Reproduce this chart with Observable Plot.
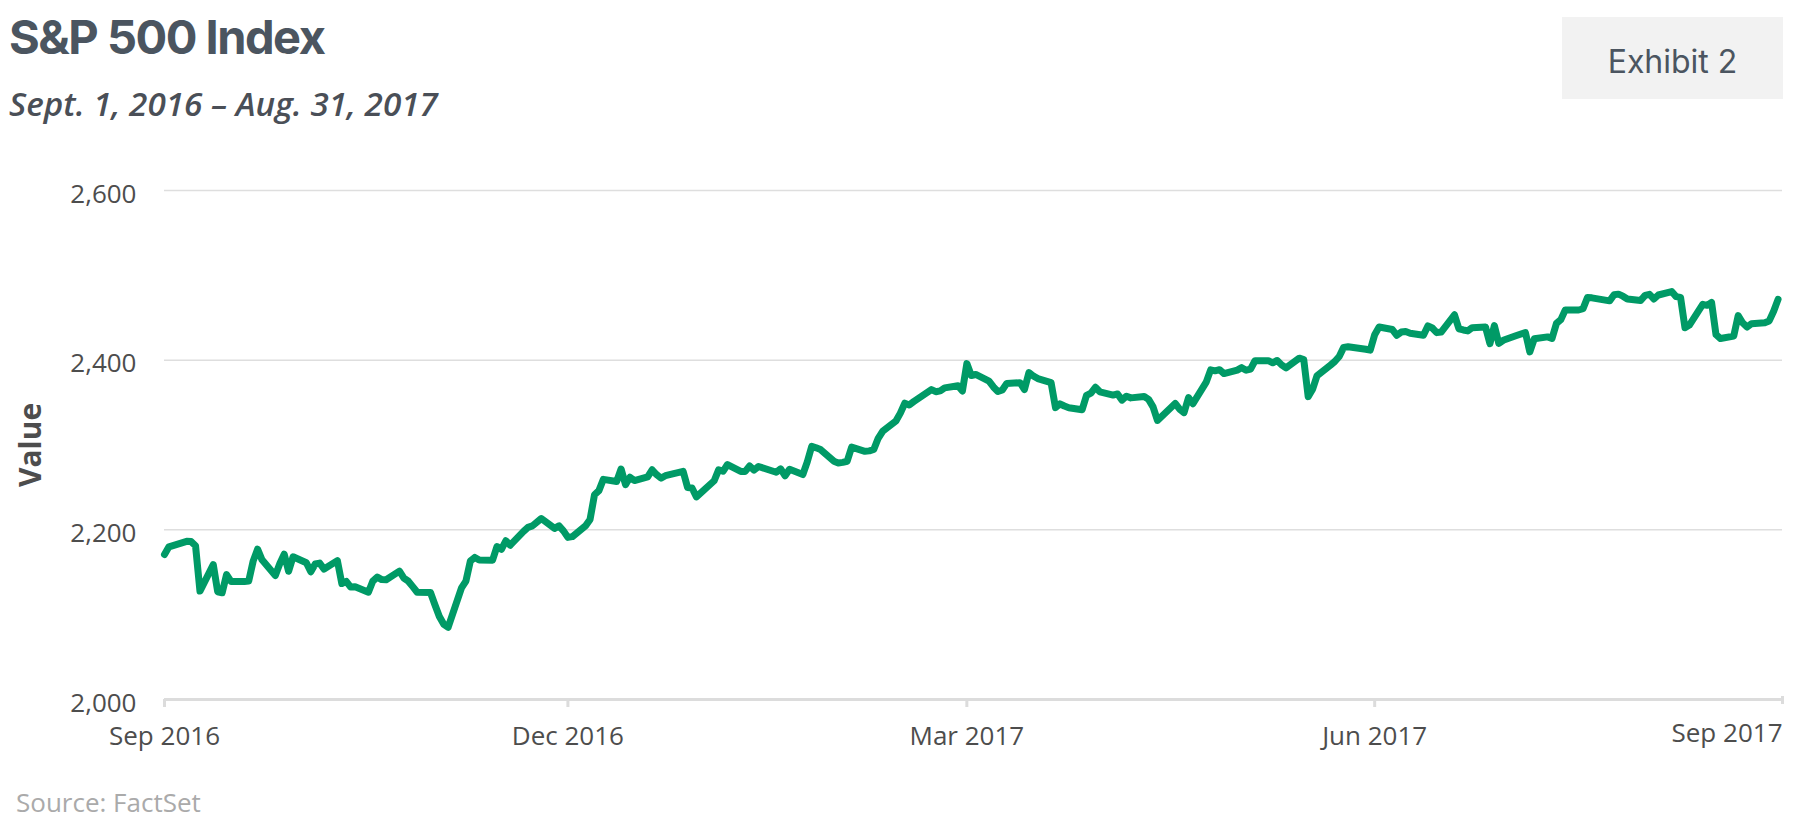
<!DOCTYPE html>
<html><head><meta charset="utf-8">
<script src="https://cdn.jsdelivr.net/npm/d3@7"></script>
<script src="https://cdn.jsdelivr.net/npm/@observablehq/plot@0.6"></script>
<style>
body{margin:0;background:#fff;}
#wrap{position:relative;width:1798px;height:826px;overflow:hidden;background:#fff;}
.t{position:absolute;white-space:nowrap;line-height:1;}
#title{left:9px;top:13px;font-family:Inter;font-weight:700;font-size:47px;letter-spacing:-1.5px;color:#4b5560;}
#subtitle{left:9px;top:87px;font-family:"Open Sans";font-weight:600;font-style:italic;font-size:33.3px;color:#4a4f57;}
#exbox{position:absolute;left:1562px;top:17px;width:221px;height:82px;background:#f2f2f2;}
#extext{left:1562px;width:221px;text-align:center;top:45.7px;font-family:Inter;font-weight:400;font-size:32px;color:#4b5560;}
#source{left:16px;top:789px;font-family:"Open Sans";font-size:26px;color:#aaaaaa;}
#ylabel{left:-70px;top:424.5px;width:200px;height:40px;line-height:40px;text-align:center;transform:rotate(-90deg);font-family:"Open Sans";font-weight:700;font-size:30px;color:#4d4d4d;}
#chart{position:absolute;left:0;top:150px;}
</style>
</head><body>
<div id="wrap">
  <div class="t" id="title">S&amp;P 500 Index</div>
  <div class="t" id="subtitle">Sept. 1, 2016 – Aug. 31, 2017</div>
  <div id="exbox"></div>
  <div class="t" id="extext">Exhibit 2</div>
  <div class="t" id="ylabel">Value</div>
  <div id="chart"></div>
  <div class="t" id="source">Source: FactSet</div>
</div>
<script>
const dates = [
"2016-09-01","2016-09-02","2016-09-06","2016-09-07","2016-09-08","2016-09-09","2016-09-12","2016-09-13","2016-09-14","2016-09-15","2016-09-16","2016-09-19","2016-09-20","2016-09-21","2016-09-22","2016-09-23","2016-09-26","2016-09-27","2016-09-28","2016-09-29","2016-09-30",
"2016-10-03","2016-10-04","2016-10-05","2016-10-06","2016-10-07","2016-10-10","2016-10-11","2016-10-12","2016-10-13","2016-10-14","2016-10-17","2016-10-18","2016-10-19","2016-10-20","2016-10-21","2016-10-24","2016-10-25","2016-10-26","2016-10-27","2016-10-28","2016-10-31",
"2016-11-01","2016-11-02","2016-11-03","2016-11-04","2016-11-07","2016-11-08","2016-11-09","2016-11-10","2016-11-11","2016-11-14","2016-11-15","2016-11-16","2016-11-17","2016-11-18","2016-11-21","2016-11-22","2016-11-23","2016-11-25","2016-11-28","2016-11-29","2016-11-30",
"2016-12-01","2016-12-02","2016-12-05","2016-12-06","2016-12-07","2016-12-08","2016-12-09","2016-12-12","2016-12-13","2016-12-14","2016-12-15","2016-12-16","2016-12-19","2016-12-20","2016-12-21","2016-12-22","2016-12-23","2016-12-27","2016-12-28","2016-12-29","2016-12-30",
"2017-01-03","2017-01-04","2017-01-05","2017-01-06","2017-01-09","2017-01-10","2017-01-11","2017-01-12","2017-01-13","2017-01-17","2017-01-18","2017-01-19","2017-01-20","2017-01-23","2017-01-24","2017-01-25","2017-01-26","2017-01-27","2017-01-30","2017-01-31",
"2017-02-01","2017-02-02","2017-02-03","2017-02-06","2017-02-07","2017-02-08","2017-02-09","2017-02-10","2017-02-13","2017-02-14","2017-02-15","2017-02-16","2017-02-17","2017-02-21","2017-02-22","2017-02-23","2017-02-24","2017-02-27","2017-02-28",
"2017-03-01","2017-03-02","2017-03-03","2017-03-06","2017-03-07","2017-03-08","2017-03-09","2017-03-10","2017-03-13","2017-03-14","2017-03-15","2017-03-16","2017-03-17","2017-03-20","2017-03-21","2017-03-22","2017-03-23","2017-03-24","2017-03-27","2017-03-28","2017-03-29","2017-03-30","2017-03-31",
"2017-04-03","2017-04-04","2017-04-05","2017-04-06","2017-04-07","2017-04-10","2017-04-11","2017-04-12","2017-04-13","2017-04-17","2017-04-18","2017-04-19","2017-04-20","2017-04-21","2017-04-24","2017-04-25","2017-04-26","2017-04-27","2017-04-28",
"2017-05-01","2017-05-02","2017-05-03","2017-05-04","2017-05-05","2017-05-08","2017-05-09","2017-05-10","2017-05-11","2017-05-12","2017-05-15","2017-05-16","2017-05-17","2017-05-18","2017-05-19","2017-05-22","2017-05-23","2017-05-24","2017-05-25","2017-05-26","2017-05-30","2017-05-31",
"2017-06-01","2017-06-02","2017-06-05","2017-06-06","2017-06-07","2017-06-08","2017-06-09","2017-06-12","2017-06-13","2017-06-14","2017-06-15","2017-06-16","2017-06-19","2017-06-20","2017-06-21","2017-06-22","2017-06-23","2017-06-26","2017-06-27","2017-06-28","2017-06-29","2017-06-30",
"2017-07-03","2017-07-05","2017-07-06","2017-07-07","2017-07-10","2017-07-11","2017-07-12","2017-07-13","2017-07-14","2017-07-17","2017-07-18","2017-07-19","2017-07-20","2017-07-21","2017-07-24","2017-07-25","2017-07-26","2017-07-27","2017-07-28","2017-07-31",
"2017-08-01","2017-08-02","2017-08-03","2017-08-04","2017-08-07","2017-08-08","2017-08-09","2017-08-10","2017-08-11","2017-08-14","2017-08-15","2017-08-16","2017-08-17","2017-08-18","2017-08-21","2017-08-22","2017-08-23","2017-08-24","2017-08-25","2017-08-28","2017-08-29","2017-08-30","2017-08-31"
];
const closes = [
2170.86,2179.98,2186.48,2186.16,2181.30,2127.81,2159.04,2127.02,2125.77,2147.26,2139.16,2139.12,2139.76,2163.12,2177.18,2164.69,2146.10,2159.93,2171.37,2151.13,2168.27,
2161.20,2150.49,2159.73,2160.77,2153.74,2163.66,2136.73,2139.18,2132.55,2132.98,2126.50,2139.60,2144.29,2141.34,2141.16,2151.33,2143.16,2139.43,2133.04,2126.41,2126.15,
2111.72,2097.94,2088.66,2085.18,2131.52,2139.56,2163.26,2167.48,2164.45,2164.20,2180.39,2176.94,2187.12,2181.90,2198.18,2202.94,2204.72,2213.35,2201.72,2204.66,2198.81,
2191.08,2191.95,2204.71,2212.23,2241.35,2246.19,2259.53,2256.96,2271.72,2253.28,2262.03,2258.07,2262.53,2270.76,2265.18,2260.96,2263.79,2268.88,2249.92,2249.26,2238.83,
2257.83,2270.75,2269.00,2276.98,2268.90,2268.90,2275.32,2270.44,2274.64,2267.89,2271.89,2263.69,2271.31,2265.20,2280.07,2298.37,2296.68,2294.69,2280.90,2278.87,
2279.55,2280.85,2297.42,2292.56,2293.08,2294.67,2307.87,2316.10,2328.25,2337.58,2349.25,2347.22,2351.16,2365.38,2362.82,2363.81,2367.34,2369.75,2363.64,
2395.96,2381.92,2383.12,2375.31,2368.39,2362.98,2364.87,2372.60,2373.47,2365.45,2385.26,2381.38,2378.25,2373.47,2344.02,2348.45,2345.96,2343.98,2341.59,2358.57,2361.13,2368.06,2362.72,
2358.84,2360.16,2352.95,2357.49,2355.54,2357.16,2353.78,2344.93,2328.95,2349.01,2342.19,2338.17,2355.84,2348.69,2374.15,2388.61,2387.45,2388.77,2384.20,
2388.33,2391.17,2388.13,2389.52,2399.29,2399.38,2396.92,2399.63,2394.44,2390.90,2402.32,2400.67,2357.03,2365.72,2381.73,2394.02,2398.42,2404.39,2415.07,2415.82,2412.91,2411.80,
2430.06,2439.07,2436.10,2429.33,2433.14,2433.79,2431.77,2429.39,2440.35,2437.92,2432.46,2433.15,2453.46,2437.03,2435.61,2434.50,2438.30,2439.07,2419.38,2440.69,2419.70,2423.41,
2429.01,2432.54,2409.75,2425.18,2427.43,2425.53,2443.25,2447.83,2459.27,2459.14,2460.61,2473.83,2473.45,2472.54,2469.91,2477.13,2477.83,2475.42,2472.10,2470.30,
2476.35,2477.57,2472.16,2476.83,2480.91,2474.92,2474.02,2438.21,2441.32,2465.84,2464.61,2468.11,2430.01,2425.55,2428.37,2452.51,2444.04,2438.97,2443.05,2444.24,2446.30,2457.59,2471.65
];
const yTicks = [2000, 2200, 2400, 2600];
const xTickDates = ["2016-09-01", "2016-12-01", "2017-03-01", "2017-06-01", "2017-09-01"];

const data = dates.map((d, i) => ({date: new Date(d), value: closes[i]}));
const xTicks = xTickDates.map(d => new Date(d));

const chart = Plot.plot({
  width: 1798,
  height: 620,
  marginTop: 40,
  marginBottom: 71,
  marginLeft: 164,
  marginRight: 16,
  style: {fontFamily: "Open Sans", fontSize: "26px", color: "#4d4d4d", background: "transparent", overflow: "visible"},
  x: {type: "utc", domain: [xTicks[0], xTicks[xTicks.length - 1]]},
  y: {domain: [2000, 2600]},
  marks: [
    Plot.gridY({ticks: yTicks.slice(1), stroke: "#dedede", strokeOpacity: 1, strokeWidth: 1.5}),
    Plot.ruleY([2000], {stroke: "#dcdcdc", strokeWidth: 3}),
    Plot.axisY({ticks: yTicks, tickSize: 0, tickPadding: 28, tickFormat: d3.format(","), label: null, dy: 4, fill: "#4d4d4d"}),
    Plot.axisX({ticks: xTicks.slice(0, 4), tickSize: 8, tickPadding: 19, stroke: "#dcdcdc", strokeWidth: 3, tickFormat: d3.utcFormat("%b %Y"), label: null, fill: "#4d4d4d"}),
    Plot.axisX({ticks: xTicks.slice(4), tickSize: 8, tickPadding: 19, stroke: "#dcdcdc", strokeWidth: 3, tickFormat: d3.utcFormat("%b %Y"), label: null, fill: "#4d4d4d", textAnchor: "end", dy: -3}),
    Plot.line(data, {x: "date", y: "value", stroke: "#009a66", strokeWidth: 7, strokeLinejoin: "round", strokeLinecap: "round"})
  ]
});
document.getElementById("chart").appendChild(chart);
</script>
</body></html>
